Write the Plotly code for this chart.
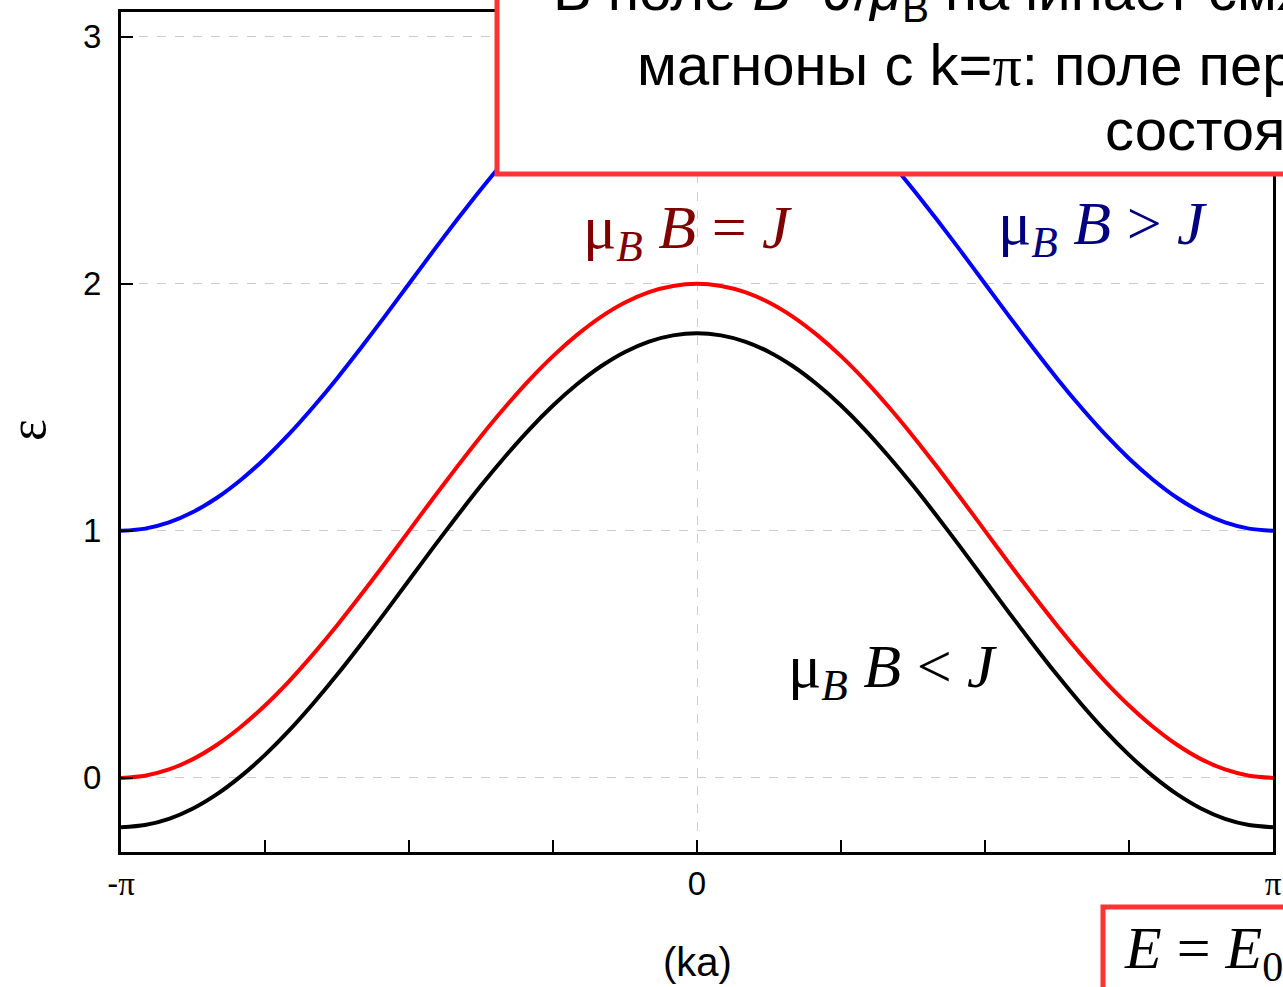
import plotly.graph_objects as go

# k in units of pi (steps of pi/24)
k_pi = [-24/24, -23/24, -22/24, -21/24, -20/24, -19/24, -18/24, -17/24, -16/24, -15/24, -14/24, -13/24,
        -12/24, -11/24, -10/24, -9/24, -8/24, -7/24, -6/24, -5/24, -4/24, -3/24, -2/24, -1/24, 0,
        1/24, 2/24, 3/24, 4/24, 5/24, 6/24, 7/24, 8/24, 9/24, 10/24, 11/24, 12/24,
        13/24, 14/24, 15/24, 16/24, 17/24, 18/24, 19/24, 20/24, 21/24, 22/24, 23/24, 24/24]
eps_red = [0.000, 0.009, 0.034, 0.076, 0.134, 0.207, 0.293, 0.391, 0.500, 0.617, 0.741, 0.869,
           1.000, 1.131, 1.259, 1.383, 1.500, 1.609, 1.707, 1.793, 1.866, 1.924, 1.966, 1.991, 2.000,
           1.991, 1.966, 1.924, 1.866, 1.793, 1.707, 1.609, 1.500, 1.383, 1.259, 1.131, 1.000,
           0.869, 0.741, 0.617, 0.500, 0.391, 0.293, 0.207, 0.134, 0.076, 0.034, 0.009, 0.000]
eps_black = [-0.200, -0.191, -0.166, -0.124, -0.066, 0.007, 0.093, 0.191, 0.300, 0.417, 0.541, 0.669,
             0.800, 0.931, 1.059, 1.183, 1.300, 1.409, 1.507, 1.593, 1.666, 1.724, 1.766, 1.791, 1.800,
             1.791, 1.766, 1.724, 1.666, 1.593, 1.507, 1.409, 1.300, 1.183, 1.059, 0.931, 0.800,
             0.669, 0.541, 0.417, 0.300, 0.191, 0.093, 0.007, -0.066, -0.124, -0.166, -0.191, -0.200]
eps_blue = [1.000, 1.009, 1.034, 1.076, 1.134, 1.207, 1.293, 1.391, 1.500, 1.617, 1.741, 1.869,
            2.000, 2.131, 2.259, 2.383, 2.500, 2.609, 2.707, 2.793, 2.866, 2.924, 2.966, 2.991, 3.000,
            2.991, 2.966, 2.924, 2.866, 2.793, 2.707, 2.609, 2.500, 2.383, 2.259, 2.131, 2.000,
            1.869, 1.741, 1.617, 1.500, 1.391, 1.293, 1.207, 1.134, 1.076, 1.034, 1.009, 1.000]

x_major = [-1, 0, 1]
x_major_text = ["-<span style='font-family:Liberation Serif'>π</span>", "0",
                "<span style='font-family:Liberation Serif'>π</span>"]
x_minor = [-1, -0.75, -0.5, -0.25, 0, 0.25, 0.5, 0.75, 1]
y_ticks = [0, 1, 2, 3]

W, H = 1283, 987
L, R, T, B = 121, 10, 12, 135
pw, ph = W - L - R, H - T - B


def px(x):
    return (x - L) / pw


def py(y):
    return (H - B - y) / ph


fig = go.Figure()
for y, c in [(eps_blue, "#0000ff"), (eps_red, "#ff0000"), (eps_black, "#000000")]:
    fig.add_trace(go.Scatter(x=k_pi, y=y, mode="lines", line=dict(color=c, width=4, shape="spline", smoothing=0.8),
                             showlegend=False, hoverinfo="skip"))

sans = "Liberation Sans, Arial"
serif = "Liberation Serif, Times New Roman"

fig.update_layout(
    width=W, height=H,
    margin=dict(l=L, r=R, t=T, b=B, autoexpand=False),
    plot_bgcolor="white", paper_bgcolor="white",
    font=dict(family=sans, size=28, color="black"),
    xaxis=dict(range=[-1, 1], tickvals=x_major, ticktext=x_major_text, automargin=False,
               tickfont=dict(family=sans, size=33, color="black"),
               ticks="inside", ticklen=12, tickwidth=2, tickcolor="black",
               showline=True, linewidth=3, linecolor="black", mirror=True,
               showgrid=True, gridcolor="#cccccc", griddash="dash", gridwidth=1,
               zeroline=False,
               minor=dict(tickvals=x_minor, ticks="inside", ticklen=12, tickwidth=2,
                          tickcolor="black", showgrid=False)),
    yaxis=dict(range=[-0.3, 3.1], tickvals=y_ticks, automargin=False,
               tickfont=dict(family=sans, size=33, color="black"),
               ticks="inside", ticklen=12, tickwidth=2, tickcolor="black",
               ticklabelstandoff=10,
               showline=True, linewidth=3, linecolor="black", mirror=True,
               showgrid=True, gridcolor="#cccccc", griddash="dash", gridwidth=1,
               zeroline=False),
)

# boxes
fig.add_shape(type="rect", xref="paper", yref="paper", x0=px(497), x1=px(1400), y0=py(174), y1=py(-60),
              line=dict(color="#ff3333", width=5), fillcolor="white", layer="above")
fig.add_shape(type="rect", xref="paper", yref="paper", x0=px(1103), x1=px(1400), y0=py(1100), y1=py(907),
              line=dict(color="#ff3333", width=5), fillcolor="white", layer="above")

annos = [
    dict(x=px(551), y=py(-6), text="В поле <i>B</i>=<i>J</i>/<i>μ</i><sub>B</sub> начинает смягчаться",
         font=dict(size=58, family=sans), xanchor="left", yanchor="middle"),
    dict(x=px(635), y=py(65), text="магноны с k=<span style='font-family:Liberation Serif'>π</span>: поле переворачивает",
         font=dict(size=58, family=sans), xanchor="left", yanchor="middle"),
    dict(x=px(1103), y=py(130), text="состояние",
         font=dict(size=58, family=sans), xanchor="left", yanchor="middle"),
    dict(x=px(1122), y=py(952), text="<i>E</i> = <i>E</i><sub>0</sub>",
         font=dict(size=60, family=serif), xanchor="left", yanchor="middle"),
    dict(x=px(581), y=py(232), text="μ<sub><i>B</i></sub> <i>B</i> = <i>J</i>",
         font=dict(size=62, family=serif, color="#800000"), xanchor="left", yanchor="middle"),
    dict(x=px(996), y=py(228), text="μ<sub><i>B</i></sub> <i>B</i> > <i>J</i>",
         font=dict(size=62, family=serif, color="#000080"), xanchor="left", yanchor="middle"),
    dict(x=px(786), y=py(670), text="μ<sub><i>B</i></sub> <i>B</i> < <i>J</i>",
         font=dict(size=62, family=serif, color="black"), xanchor="left", yanchor="middle"),
    dict(x=px(27), y=py(430), text="ε", textangle=-90,
         font=dict(size=52, family=serif), xanchor="center", yanchor="middle"),
    dict(x=px(697), y=py(962), text="(ka)",
         font=dict(size=40, family=sans), xanchor="center", yanchor="middle"),
]
for a in annos:
    fig.add_annotation(xref="paper", yref="paper", showarrow=False, **a)

fig.write_html("out.html")
